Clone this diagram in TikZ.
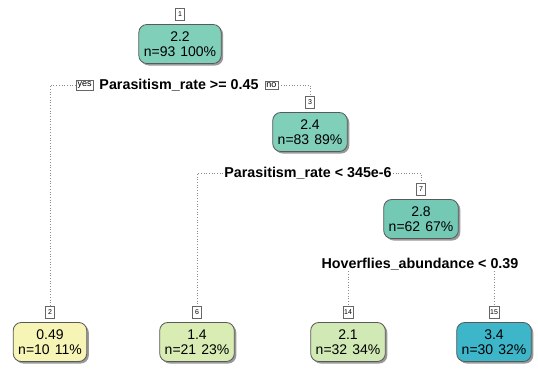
\documentclass[tikz,border=0pt]{standalone}
\usepackage{fontspec}
\setmainfont{Liberation Sans}
\usepackage{xcolor}
\usepackage{tikz}
\usetikzlibrary{shadows,calc}
\definecolor{fillroot}{HTML}{80CFB9}
\definecolor{fillmid}{HTML}{74C9B5}
\definecolor{fillpale}{HTML}{F6F5B6}
\definecolor{filllgreen}{HTML}{D8ECB4}
\definecolor{fillgreen}{HTML}{D0E9B5}
\definecolor{fillcyan}{HTML}{3EB6C9}

\begin{document}
\begin{tikzpicture}[x=1pt, y=-1pt,
  nodebox/.style={draw=black!65, line width=0.8pt, rounded corners=8pt,
                  minimum height=39pt, inner xsep=5pt, align=center,
                  font=\fontsize{14}{15.5}\selectfont,
                  drop shadow={shadow xshift=2pt, shadow yshift=-2pt,
                               fill=black!40, opacity=1}},
  numbox/.style={draw=black!60, fill=white, line width=0.5pt, inner sep=1pt,
                 minimum width=9pt, minimum height=12pt,
                 font=\fontsize{7}{8}\selectfont},
  split/.style={font=\fontsize{14.3}{16}\bfseries\selectfont, inner sep=1pt},
  yesno/.style={draw=black!60, fill=white, line width=0.5pt, inner sep=1.5pt,
                font=\fontsize{9}{10}\selectfont},
  conn/.style={draw=black!45, dotted, line width=0.7pt}
]
\useasboundingbox[fill=white] (0,0) rectangle (538,372);

% ── Inner nodes ──────────────────────────────────────────────────────────────
\node[nodebox, fill=fillroot] (n1) at (180,44) {2.2\\n=93\hspace{5pt}100\%};
\node[numbox, anchor=south] (lab1) at ($(n1.north)+(0,-4)$) {1};

\node[nodebox, fill=fillroot] (n3) at (310,132) {2.4\\n=83\hspace{5pt}89\%};
\node[numbox, anchor=south] (lab3) at ($(n3.north)+(0,-4)$) {3};

\node[nodebox, fill=fillmid] (n7) at (421,219) {2.8\\n=62\hspace{5pt}67\%};
\node[numbox, anchor=south] (lab7) at ($(n7.north)+(0,-4)$) {7};

% ── Leaves ───────────────────────────────────────────────────────────────────
\node[nodebox, fill=fillpale]   (n2)  at (50,342)  {0.49\\n=10\hspace{5pt}11\%};
\node[nodebox, fill=filllgreen] (n6)  at (197,342) {1.4\\n=21\hspace{5pt}23\%};
\node[nodebox, fill=fillgreen]  (n14) at (348,342) {2.1\\n=32\hspace{5pt}34\%};
\node[nodebox, fill=fillcyan]   (n15) at (494,342) {3.4\\n=30\hspace{5pt}32\%};
\node[numbox, anchor=south] (lab2)  at ($(n2.north)+(0,-4)$)  {2};
\node[numbox, anchor=south] (lab6)  at ($(n6.north)+(0,-4)$)  {6};
\node[numbox, anchor=south] (lab14) at ($(n14.north)+(0,-4)$) {14};
\node[numbox, anchor=south] (lab15) at ($(n15.north)+(0,-4)$) {15};

% ── Split labels ─────────────────────────────────────────────────────────────
\node[split] (s1) at (179,85)  {Parasitism\_rate >= 0.45};
\node[yesno, left=5pt] (yes) at (s1.west) {yes};
\node[yesno, right=5pt] (no) at (s1.east) {no};
\node[split] (s3) at (308,173) {Parasitism\_rate < 345e-6};
\node[split] (s7) at (420,264) {Hoverflies\_abundance < 0.39};

% ── Connectors ───────────────────────────────────────────────────────────────
\draw[conn] (yes.west) -| (lab2.north);
\draw[conn] (no.east) -| (lab3.north);
\draw[conn] (s3.west) -| (lab6.north);
\draw[conn] (s3.east) -| (lab7.north);
\draw[conn] (s7.south -| lab14.north) -- (lab14.north);
\draw[conn] (s7.south -| lab15.north) -- (lab15.north);
\end{tikzpicture}
\end{document}
